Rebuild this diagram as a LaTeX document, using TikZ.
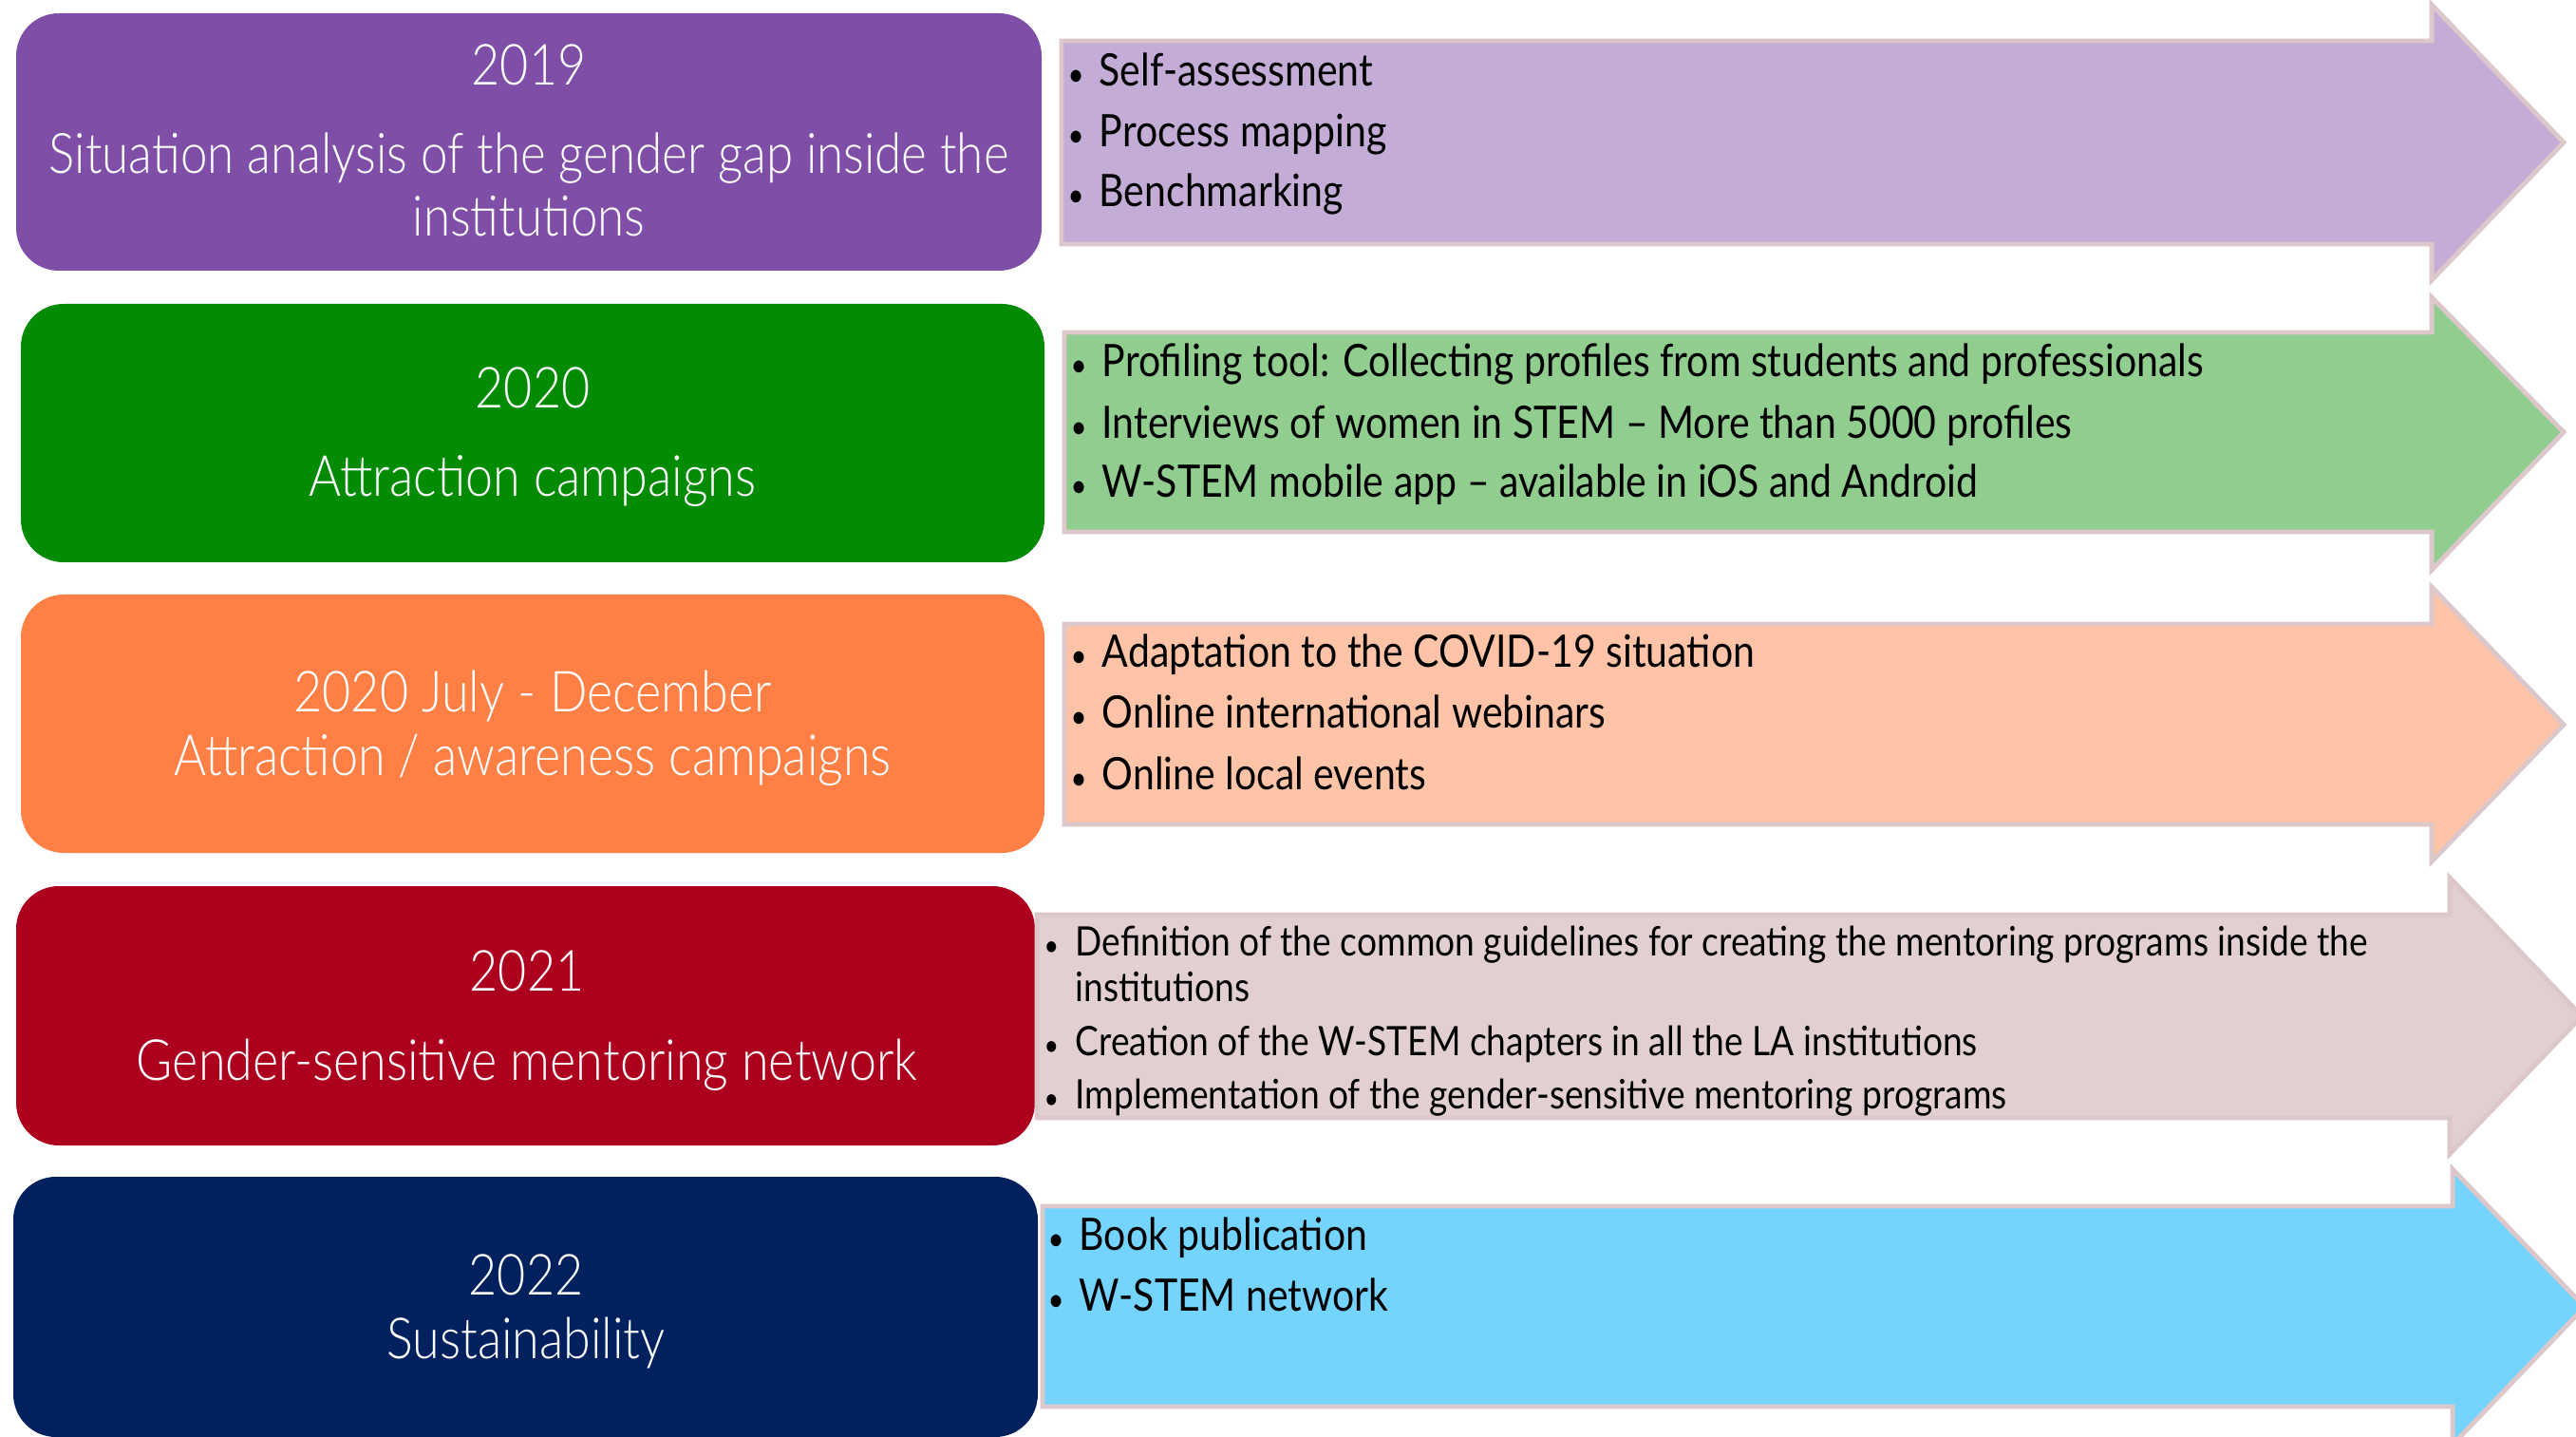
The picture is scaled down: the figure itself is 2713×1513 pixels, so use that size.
\documentclass[tikz,border=0pt]{standalone}
\usepackage{fontspec}
\usepackage{graphicx}
\newfontfamily\boxfont{Lato Light}[FakeStretch=0.87]
\newfontfamily\arrfont{Lato}[FakeStretch=0.87]
\definecolor{cPurple}{HTML}{7F4FA8}
\definecolor{cGreen}{HTML}{038C03}
\definecolor{cOrange}{HTML}{FF7F45}
\definecolor{cRed}{HTML}{AD001E}
\definecolor{cNavy}{HTML}{00205E}
\definecolor{aPurple}{HTML}{C3ACD6}
\definecolor{aGreen}{HTML}{90CD8F}
\definecolor{aOrange}{HTML}{FFC4A8}
\definecolor{aPink}{HTML}{E2CFD2}
\definecolor{aBlue}{HTML}{75D4FE}
\definecolor{aEdge}{HTML}{DCC7CB}
\newcommand\itm[1]{\makebox[0.33cm][l]{\scalebox{0.72}{\textbullet}}#1}
\tikzset{
  yearbox/.style={rounded corners=0.45cm},
  arrowshape/.style={draw=aEdge, line width=1.4pt, line join=miter},
  btxt/.style={text=white, font=\boxfont\fontsize{17}{19}\selectfont, anchor=base, inner sep=0pt},
  btxtA/.style={btxt, font=\boxfont\fontsize{16.7}{19}\selectfont},
  atxt/.style={text=black, font=\arrfont\fontsize{13.4}{16}\selectfont, anchor=base west, inner sep=0pt},
  stxt/.style={text=black, font=\arrfont\fontsize{12.15}{14}\selectfont, anchor=base west, inner sep=0pt}
}
\begin{document}
\begin{tikzpicture}[x=0.01cm,y=-0.01cm]
\useasboundingbox (0,0) rectangle (2713,1513);
\clip (0,0) rectangle (2713,1513);
\fill[white] (0,0) rectangle (2713,1513);
% year boxes
\fill[cPurple, yearbox] (17,14) rectangle (1097,285);
\fill[cGreen, yearbox] (22,320) rectangle (1100,592);
\fill[cOrange, yearbox] (22,626) rectangle (1100,898);
\fill[cRed, yearbox] (17,933) rectangle (1090,1206);
\fill[cNavy, yearbox] (14,1239) rectangle (1093,1513);
% arrows
\filldraw[fill=aPurple, arrowshape] (1118,43) -- (2561,43) -- (2561,5) -- (2700,150) -- (2561,295) -- (2561,257) -- (1118,257) -- cycle;
\filldraw[fill=aGreen, arrowshape] (1121,350) -- (2561,350) -- (2561,313) -- (2700,455) -- (2561,600) -- (2561,560) -- (1121,560) -- cycle;
\filldraw[fill=aOrange, arrowshape] (1121,657) -- (2561,657) -- (2561,618) -- (2700,763) -- (2561,907) -- (2561,868) -- (1121,868) -- cycle;
\filldraw[fill=aPink, arrowshape] (1092,963) -- (2580,963) -- (2580,924) -- (2719,1070) -- (2580,1215) -- (2580,1177) -- (1092,1177) -- cycle;
\filldraw[fill=aBlue, arrowshape] (1098,1270) -- (2583,1270) -- (2583,1231) -- (2722,1376) -- (2583,1521) -- (2583,1481) -- (1098,1481) -- cycle;
% box texts
\node[btxt] (y1) at (557,90) {2019};
\node[btxtA] (t1a) at (557,183) {Situation analysis of the gender gap inside the};
\node[btxtA] (t1b) at (557,249) {institutions};
\node[btxt] (y2) at (561,430) {2020};
\node[btxt] (t2) at (561,523) {Attraction campaigns};
\node[btxt] (y3) at (561,750) {2020 July - December};
\node[btxt] (t3) at (561,816) {Attraction / awareness campaigns};
\node[btxt] (y4) at (555,1043) {2021};
\node[btxt] (t4) at (555,1137) {Gender-sensitive mentoring network};
\node[btxt] (y5) at (554,1363) {2022};
\node[btxt] (t5) at (554,1430) {Sustainability};
% arrow texts
\node[atxt] (a11) at (1124,91) {\itm{Self-assessment}};
\node[atxt] (a12) at (1124,155) {\itm{Process mapping}};
\node[atxt] (a13) at (1124,218) {\itm{Benchmarking}};
\node[atxt] (a21) at (1127,397) {\itm{Profiling tool: Collecting profiles from students and professionals}};
\node[atxt] (a22) at (1127,462) {\itm{Interviews of women in STEM – More than 5000 profiles}};
\node[atxt] (a23) at (1127,524) {\itm{W-STEM mobile app – available in iOS and Android}};
\node[atxt] (a31) at (1127,703) {\itm{Adaptation to the COVID-19 situation}};
\node[atxt] (a32) at (1127,767) {\itm{Online international webinars}};
\node[atxt] (a33) at (1127,831) {\itm{Online local events}};
\node[stxt] (a41) at (1099,1006) {\itm{Definition of the common guidelines for creating the mentoring programs inside the}};
\node[stxt] (a41b) at (1132,1054) {institutions};
\node[stxt] (a42) at (1099,1111) {\itm{Creation of the W-STEM chapters in all the LA institutions}};
\node[stxt] (a43) at (1099,1167) {\itm{Implementation of the gender-sensitive mentoring programs}};
\node[atxt] (a51) at (1103,1316) {\itm{Book publication}};
\node[atxt] (a52) at (1103,1380) {\itm{W-STEM network}};
\end{tikzpicture}
\end{document}
